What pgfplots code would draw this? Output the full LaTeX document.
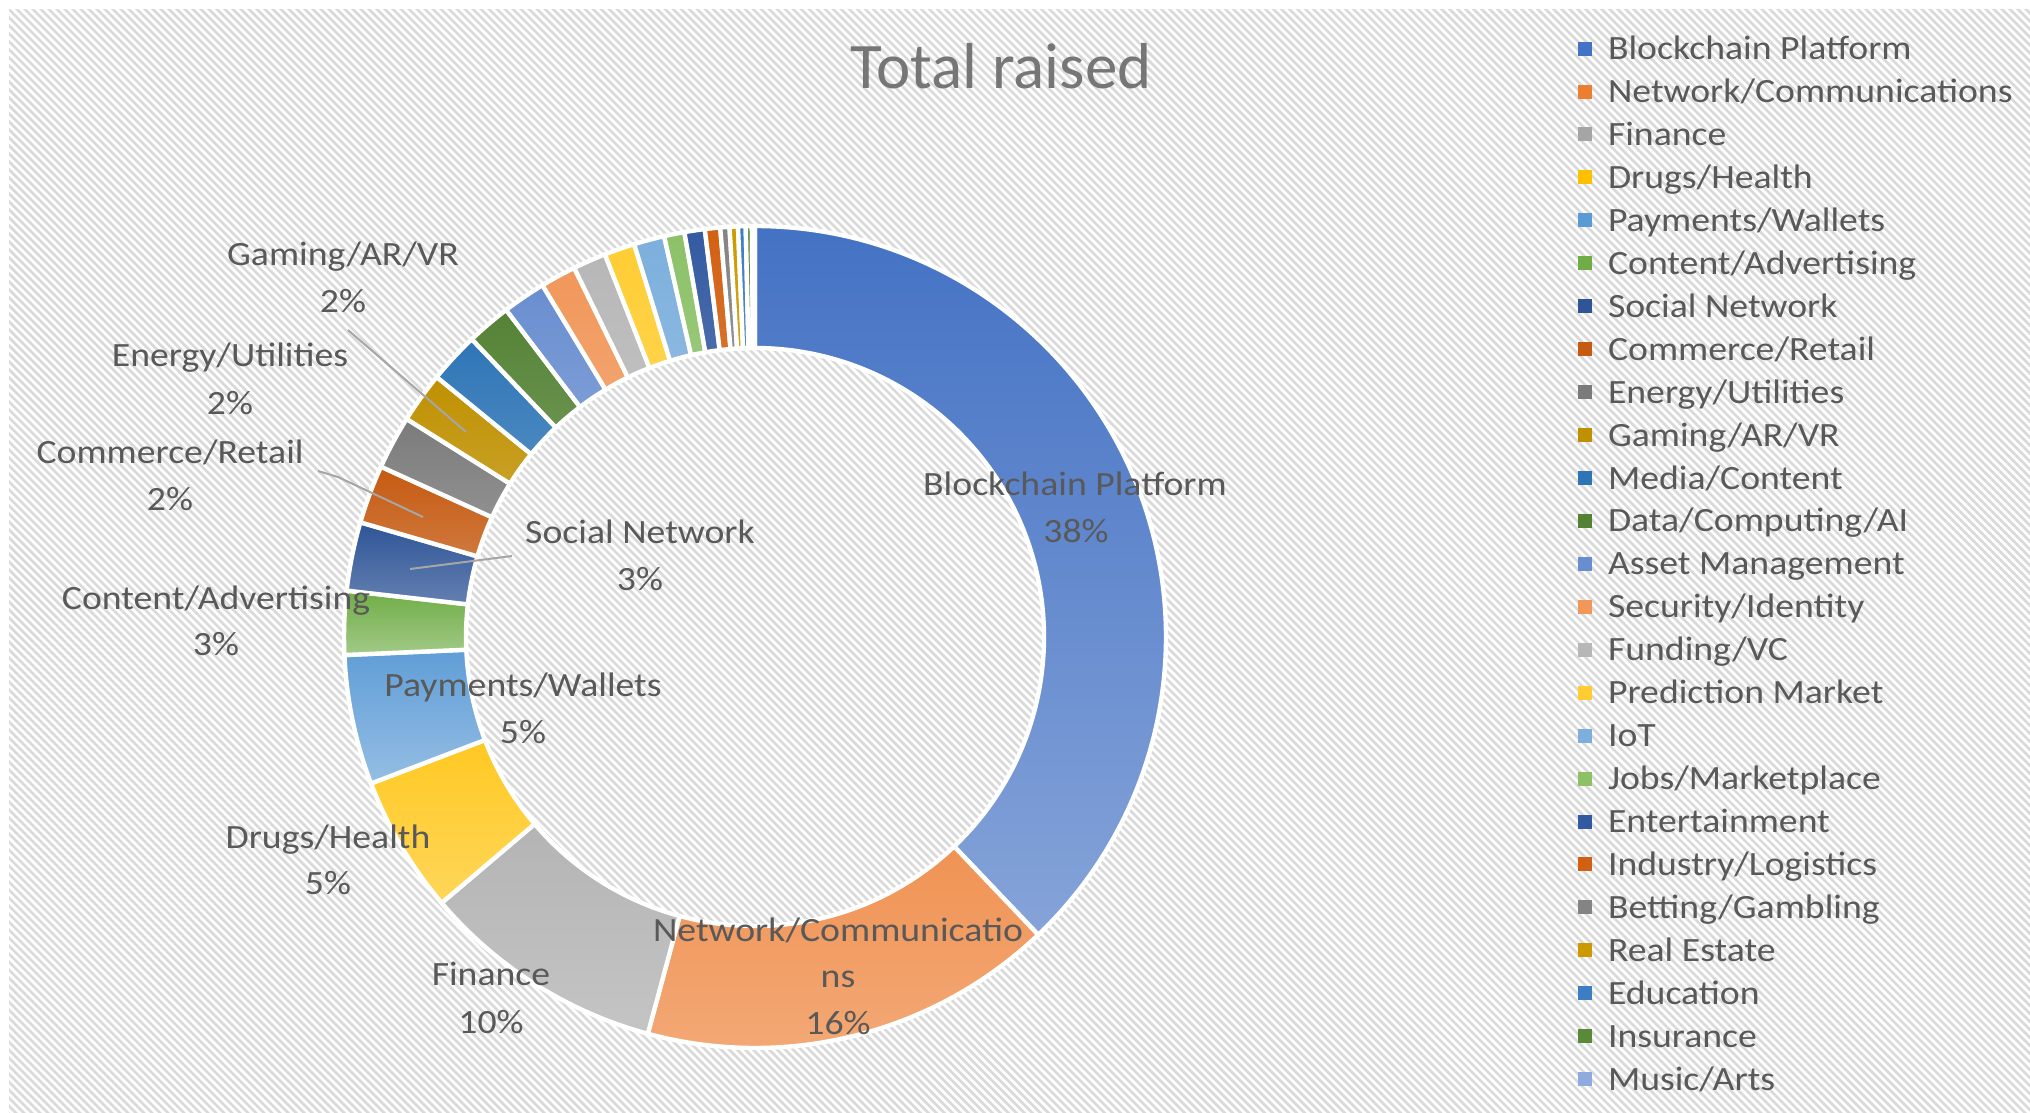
\documentclass[border=0pt]{standalone}
\usepackage{fontspec}
\setmainfont{Carlito}
\newfontfamily\lblfont{Carlito}[FakeStretch=1.11]
\usepackage{pgfplots}
\pgfplotsset{compat=1.18}
\usepackage{pgfplotstable}
\usetikzlibrary{patterns.meta}

\definecolor{lblgray}{HTML}{595959}
\definecolor{titlegray}{HTML}{767676}
\definecolor{leadgray}{HTML}{A6A6A6}
\definecolor{c1}{HTML}{4472C4}
\definecolor{c2}{HTML}{ED7D31}
\definecolor{c3}{HTML}{A5A5A5}
\definecolor{c4}{HTML}{FFC000}
\definecolor{c5}{HTML}{5B9BD5}
\definecolor{c6}{HTML}{70AD47}
\definecolor{c7}{HTML}{2F5597}
\definecolor{c8}{HTML}{C55A11}
\definecolor{c9}{HTML}{7B7B7B}
\definecolor{c10}{HTML}{BF9000}
\definecolor{c11}{HTML}{2E75B6}
\definecolor{c12}{HTML}{548235}
\definecolor{c13}{HTML}{698ED0}
\definecolor{c14}{HTML}{F1975A}
\definecolor{c15}{HTML}{B7B7B7}
\definecolor{c16}{HTML}{FFCD33}
\definecolor{c17}{HTML}{7CAFDD}
\definecolor{c18}{HTML}{8CC168}
\definecolor{c19}{HTML}{335AA1}
\definecolor{c20}{HTML}{D26012}
\definecolor{c21}{HTML}{848484}
\definecolor{c22}{HTML}{CC9A00}
\definecolor{c23}{HTML}{3C7DC4}
\definecolor{c24}{HTML}{5A8A39}
\definecolor{c25}{HTML}{8FAADC}

% share of total raised, in percent, clockwise from 12 o'clock
\pgfplotstableread[col sep=comma]{
name,value,col
Blockchain Platform,37.9,c1
Network/Communications,16.3,c2
Finance,9.6,c3
Drugs/Health,5.4,c4
Payments/Wallets,5.1,c5
Content/Advertising,2.5,c6
Social Network,2.7,c7
Commerce/Retail,2.3,c8
Energy/Utilities,2.1,c9
Gaming/AR/VR,2.0,c10
Media/Content,2.0,c11
Data/Computing/AI,1.75,c12
Asset Management,1.7,c13
Security/Identity,1.4,c14
Funding/VC,1.3,c15
Prediction Market,1.2,c16
IoT,1.2,c17
Jobs/Marketplace,0.8,c18
Entertainment,0.8,c19
Industry/Logistics,0.6,c20
Betting/Gambling,0.36,c21
Real Estate,0.33,c22
Education,0.3,c23
Insurance,0.24,c24
Music/Arts,0.12,c25
}\slices

\newcommand\lbl[3]{\node[anchor=base, inner sep=0pt, text=lblgray,
  font=\lblfont\fontsize{17}{20}\selectfont] at (axis cs:#1,#2) {#3};}

\begin{document}
\begin{tikzpicture}
\begin{axis}[
  at={(0,0)}, anchor=south west,
  scale only axis, width=1015pt, height=556.5pt,
  xmin=0, xmax=2030, ymin=0, ymax=1113, y dir=reverse,
  hide axis, clip=false,
  legend image code/.code={\fill[#1] (0pt,2pt) rectangle (7pt,9pt);},
  legend style={at={(axis cs:1578,36)}, anchor=north west,
    draw=none, fill=none, inner sep=0pt, outer sep=0pt,
    font=\lblfont\fontsize{17}{17}\selectfont, text=lblgray,
    row sep={21.47pt,between origins}, column sep=8pt,
    cells={anchor=base west}, nodes={inner sep=0pt}},
]
% background
\fill[white] (axis cs:0,0) rectangle (axis cs:2030,1113);
\fill[pattern={Lines[angle=-45,distance=2.83pt,line width=1.3pt]},
  pattern color=black!15] (axis cs:9,10) rectangle (axis cs:2030,1113);

% doughnut
\coordinate (C) at (axis cs:755,637);
\pgfplotstablegetrowsof{\slices}
\pgfmathtruncatemacro\nrows{\pgfplotsretval-1}
\def\cum{0}
\pgfplotsforeachungrouped \i in {0,...,\nrows}{%
  \pgfplotstablegetelem{\i}{value}\of\slices \let\slval=\pgfplotsretval
  \pgfplotstablegetelem{\i}{col}\of\slices \let\slcol=\pgfplotsretval
  \pgfplotstablegetelem{\i}{name}\of\slices \let\slname=\pgfplotsretval
  \pgfmathsetmacro\aone{90-3.6*\cum}
  \pgfmathsetmacro\cum{\cum+\slval}
  \pgfmathsetmacro\atwo{90-3.6*\cum}
  \edef\doslice{\noexpand\path[draw=white, line width=2.2pt,
      top color=\slcol, bottom color=\slcol!65!white]
    (C) ++(\aone:205.5pt) arc[start angle=\aone, end angle=\atwo, radius=205.5pt]
    -- ([shift={(\atwo:144.5pt)}]C) arc[start angle=\atwo, end angle=\aone, radius=144.5pt]
    -- cycle;}%
  \doslice
  \edef\doleg{\noexpand\addlegendimage{fill=\slcol, draw=none}%
    \noexpand\addlegendentry{\slname}}%
  \doleg
}

% leader lines
\draw[leadgray, line width=1pt] (axis cs:348,330) -- (axis cs:466,432);
\draw[leadgray, line width=1pt] (axis cs:318,471) -- (axis cs:338,477) -- (axis cs:423,517);
\draw[leadgray, line width=1pt] (axis cs:512,556) -- (axis cs:410,569);

% data labels
\lbl{1075}{495}{Blockchain Platform}
\lbl{1076}{542}{38\%}
\lbl{838}{941}{Network/Communicatio}
\lbl{838}{987}{ns}
\lbl{838}{1034}{16\%}
\lbl{491}{985}{Finance}
\lbl{491}{1033}{10\%}
\lbl{328}{848}{Drugs/Health}
\lbl{328}{894}{5\%}
\lbl{523}{696}{Payments/Wallets}
\lbl{523}{743}{5\%}
\lbl{216}{609}{Content/Advertising}
\lbl{216}{655}{3\%}
\lbl{640}{543}{Social Network}
\lbl{640}{590}{3\%}
\lbl{170}{463}{Commerce/Retail}
\lbl{170}{510}{2\%}
\lbl{230}{366}{Energy/Utilities}
\lbl{230}{414}{2\%}
\lbl{343}{265}{Gaming/AR/VR}
\lbl{343}{312}{2\%}

% title
\node[anchor=base, inner sep=0pt, text=titlegray,
  font=\fontsize{32.5}{34}\selectfont] at (axis cs:1001,89) {Total raised};
\end{axis}
\pgfresetboundingbox
\useasboundingbox (0,0) rectangle (1015pt,556.5pt);
\end{tikzpicture}
\end{document}
